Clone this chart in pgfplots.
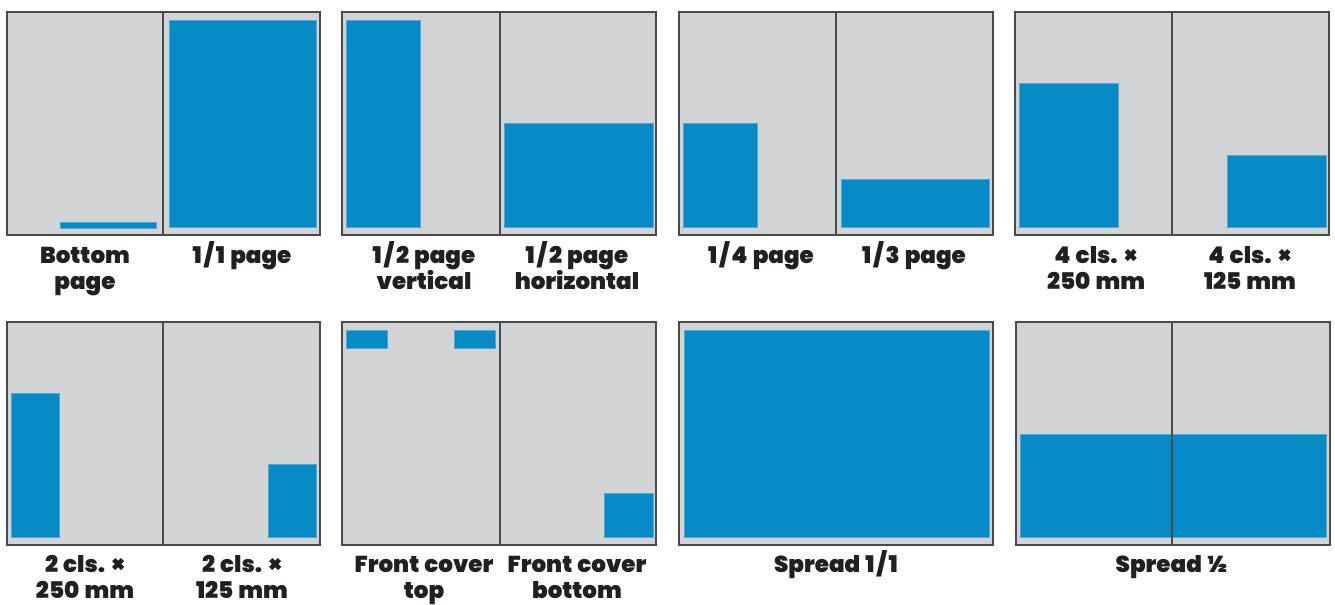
\documentclass[border=0pt]{standalone}
\usepackage{fontspec}
\setmainfont{Poppins Black}[WordSpace=1.3]
\usepackage{pgfplots}
\pgfplotsset{compat=1.18}

\definecolor{pagegray}{HTML}{D1D3D5}
\definecolor{adblue}{HTML}{068BC6}
\definecolor{adedge}{HTML}{4EABD8}
\definecolor{frame}{HTML}{4A4A4C}
\definecolor{ink}{HTML}{231F20}

% one spread: left, right, top, bottom (pixel coordinates, y downwards)
\newcommand{\spreadbg}[4]{%
  \addplot[fill=pagegray, draw=none] coordinates {(#1,#3) (#2,#3) (#2,#4) (#1,#4)} --cycle;}
\newcommand{\spreadframe}[4]{%
  \addplot[draw=frame, line width=1.4pt] coordinates {(#1,#3) (#2,#3) (#2,#4) (#1,#4)} --cycle;}
\newcommand{\ad}[4]{%
  \addplot[fill=adblue, draw=adedge, line width=0.6pt] coordinates {(#1,#3) (#2,#3) (#2,#4) (#1,#4)} --cycle;}
\newcommand{\fold}[3]{%
  \addplot[draw=frame, line width=1.2pt] coordinates {(#1,#2) (#1,#3)};}
\newcommand{\fr}[2]{#1\kern2.5pt/\kern2.5pt#2}

\tikzset{lab/.style={anchor=base, inner sep=0pt, font=\fontsize{23}{26}\selectfont, text=ink}}

\begin{document}
\begin{tikzpicture}
\begin{axis}[
    scale only axis,
    width=1335pt, height=601pt,
    xmin=0, xmax=1335, ymin=0, ymax=601,
    y dir=reverse,
    hide axis,
    clip=false,
]
\path (axis cs:0,0) rectangle (axis cs:1335,601);

% row 1
\spreadbg{7}{320}{12}{235}
\ad{60}{156}{222}{228}
\ad{169}{316}{20}{227}
\fold{163}{12}{235}
\spreadframe{7}{320}{12}{235}

\spreadbg{342}{656}{12}{235}
\ad{346}{420}{20}{227}
\ad{504}{653}{123}{227}
\fold{500}{12}{235}
\spreadframe{342}{656}{12}{235}

\spreadbg{679}{993}{12}{235}
\ad{683}{757}{123}{227}
\ad{841}{989}{179}{227}
\fold{836}{12}{235}
\spreadframe{679}{993}{12}{235}

\spreadbg{1015}{1329}{12}{235}
\ad{1019}{1118}{83}{227}
\ad{1227}{1326}{155}{227}
\fold{1172}{12}{235}
\spreadframe{1015}{1329}{12}{235}

% row 2
\spreadbg{7}{320}{322}{545}
\ad{11}{59}{393}{537}
\ad{268}{316}{464}{537}
\fold{163}{322}{545}
\spreadframe{7}{320}{322}{545}

\spreadbg{342}{656}{322}{545}
\ad{346}{387}{330}{348}
\ad{454}{495}{330}{348}
\ad{604}{653}{493}{537}
\fold{500}{322}{545}
\spreadframe{342}{656}{322}{545}

\spreadbg{679}{993}{322}{545}
\ad{684}{989}{330}{537}
\spreadframe{679}{993}{322}{545}

\spreadbg{1016}{1330}{322}{545}
\ad{1020}{1326}{434}{537}
\fold{1172}{322}{545}
\spreadframe{1016}{1330}{322}{545}

% labels
\node[lab] at (axis cs:85,263) {Bottom};
\node[lab] at (axis cs:85,289) {page};
\node[lab] at (axis cs:242,263) {\fr{1}{1} page};
\node[lab] at (axis cs:424,263) {\fr{1}{2} page};
\node[lab] at (axis cs:424,289) {vertical};
\node[lab] at (axis cs:577,263) {\fr{1}{2} page};
\node[lab] at (axis cs:577,289) {horizontal};
\node[lab] at (axis cs:761,263) {\fr{1}{4} page};
\node[lab] at (axis cs:914,263) {\fr{1}{3} page};
\node[lab] at (axis cs:1096,263) {4 cls. ×};
\node[lab] at (axis cs:1096,289) {250 mm};
\node[lab] at (axis cs:1250,263) {4 cls. ×};
\node[lab] at (axis cs:1250,289) {125 mm};

\node[lab] at (axis cs:85,572) {2 cls. ×};
\node[lab] at (axis cs:85,598) {250 mm};
\node[lab] at (axis cs:242,572) {2 cls. ×};
\node[lab] at (axis cs:242,598) {125 mm};
\node[lab] at (axis cs:424,572) {Front cover};
\node[lab] at (axis cs:424,598) {top};
\node[lab] at (axis cs:577,572) {Front cover};
\node[lab] at (axis cs:577,598) {bottom};
\node[lab] at (axis cs:836,572) {Spread \fr{1}{1}};
\node[lab] at (axis cs:1172,572) {Spread ½};
\end{axis}
\end{tikzpicture}
\end{document}
